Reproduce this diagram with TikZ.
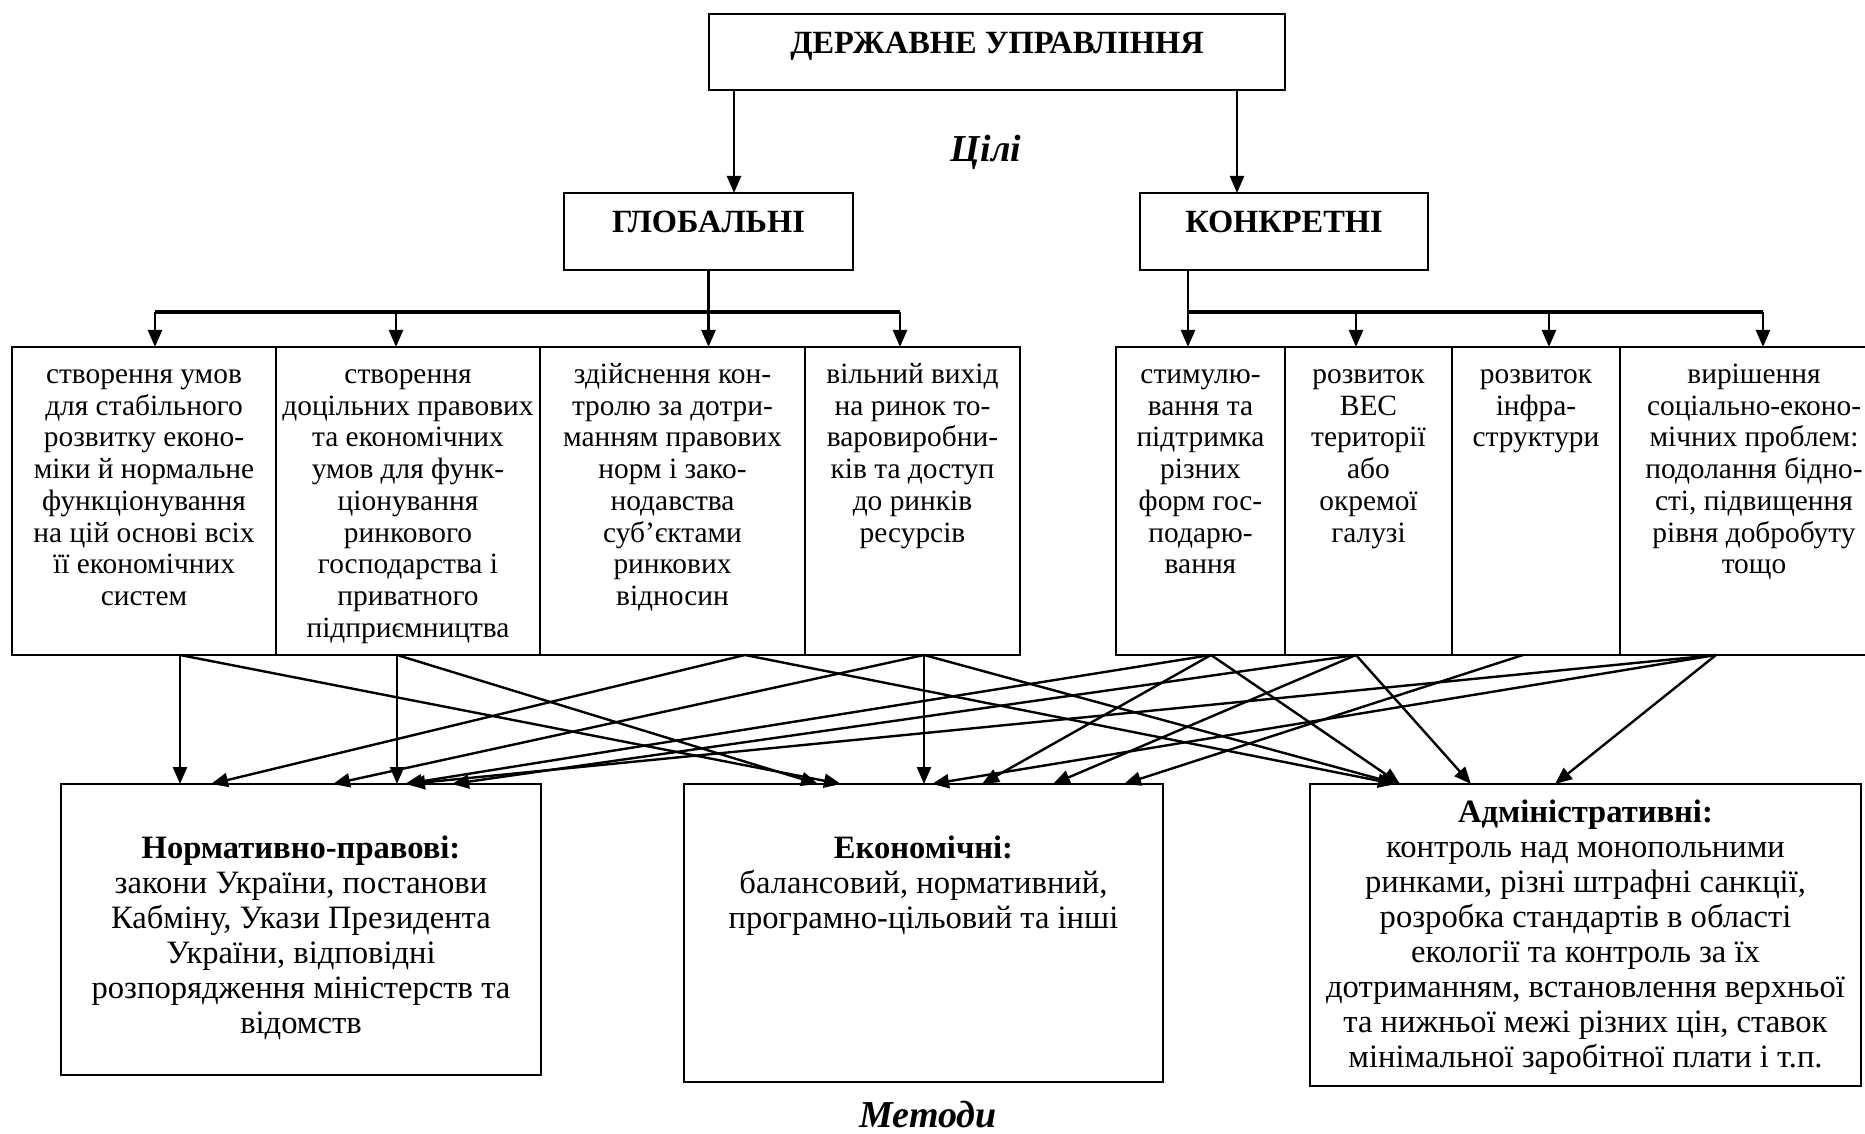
\documentclass[tikz,border=0pt]{standalone}
\usepackage{fontspec}
\setmainfont{Liberation Serif}
\usepackage{tikz}
\usetikzlibrary{calc, arrows.meta}

\tikzset{
  box/.style={draw, line width=1.2pt, inner sep=0pt, outer sep=0pt, anchor=north west},
  titlebox/.style={box, font=\bfseries\fontsize{16.2}{18}\selectfont, text height=11.5pt, text depth=10.3pt},
  celltext/.style={align=center, inner sep=0pt, anchor=north, font=\fontsize{14.7}{15.85}\selectfont},
  methtext/.style={align=center, inner sep=0pt, anchor=north, font=\fontsize{16.3}{17.5}\selectfont},
  heading/.style={font=\bfseries\itshape\fontsize{19}{21}\selectfont},
  arr/.style={line width=1.2pt, -{Triangle[length=8.5pt,width=7pt]}},
  bar/.style={line width=1.6pt}
}

\begin{document}
\begin{tikzpicture}[x=0.5pt, y=-0.5pt]

\useasboundingbox (0,0) rectangle (1865,1134);

% -------------------------
% Top: state management and goals
% -------------------------
\node[titlebox, minimum width=288pt, minimum height=38pt] (upr) at (709,14) {ДЕРЖАВНЕ УПРАВЛІННЯ};
\node[titlebox, minimum width=144.5pt, minimum height=38.5pt] (glob) at (564,193) {ГЛОБАЛЬНІ};
\node[titlebox, minimum width=144pt, minimum height=38.5pt] (konk) at (1140,193) {КОНКРЕТНІ};

\node[heading] (goals) at (986,152) {Цілі};

\draw[arr] ($(upr.south west)+(25,0)$) -- ($(glob.north west)+(170,0)$);
\draw[arr] ($(upr.south west)+(528,0)$) -- ($(konk.north west)+(97,0)$);

% -------------------------
% Row of global goals
% -------------------------
\node[box, minimum width=132pt, minimum height=154pt] (c1) at (12,347) {};
\node[box, minimum width=132pt, minimum height=154pt] (c2) at (276,347) {};
\node[box, minimum width=132.5pt, minimum height=154pt] (c3) at (540,347) {};
\node[box, minimum width=107.5pt, minimum height=154pt] (c4) at (805,347) {};

\node[celltext] (t1) at ($(c1.north)+(0,14)$) {\strut створення умов\\для стабільного\\розвитку еконо-\\міки й нормальне\\функціонування\\на цій основі всіх\\її економічних\\систем};
\node[celltext] (t2) at ($(c2.north)+(0,14)$) {\strut створення\\доцільних правових\\та економічних\\умов для функ-\\ціонування\\ринкового\\господарства і\\приватного\\підприємництва};
\node[celltext] (t3) at ($(c3.north)+(0,14)$) {\strut здійснення кон-\\тролю за дотри-\\манням правових\\норм і зако-\\нодавства\\суб’єктами\\ринкових\\відносин};
\node[celltext] (t4) at ($(c4.north)+(0,14)$) {\strut вільний вихід\\на ринок то-\\варовиробни-\\ків та доступ\\до ринків\\ресурсів};

\draw[arr] (glob.south) -- (glob.south |- c3.north);
\draw[bar] ($(c1.north west)+(143,-35)$) -- ($(c4.north west)+(95,-35)$);
\draw[arr] ($(c1.north west)+(143,-35)$) -- ($(c1.north west)+(143,0)$);
\draw[arr] ($(c2.north west)+(120,-35)$) -- ($(c2.north west)+(120,0)$);
\draw[arr] ($(c4.north west)+(95,-35)$) -- ($(c4.north west)+(95,0)$);

% -------------------------
% Row of concrete goals
% -------------------------
\node[box, minimum width=84.5pt, minimum height=154pt] (c5) at (1116,347) {};
\node[box, minimum width=83.5pt, minimum height=154pt] (c6) at (1285,347) {};
\node[box, minimum width=84pt, minimum height=154pt] (c7) at (1452,347) {};
\node[box, minimum width=134pt, minimum height=154pt] (c8) at (1620,347) {};

\node[celltext] (t5) at ($(c5.north)+(0,14)$) {\strut стимулю-\\вання та\\підтримка\\різних\\форм гос-\\подарю-\\вання};
\node[celltext] (t6) at ($(c6.north)+(0,14)$) {\strut розвиток\\ВЕС\\території\\або\\окремої\\галузі};
\node[celltext] (t7) at ($(c7.north)+(0,14)$) {\strut розвиток\\інфра-\\структури};
\node[celltext] (t8) at ($(c8.north)+(0,14)$) {\strut вирішення\\соціально-еконо-\\мічних проблем:\\подолання бідно-\\сті, підвищення\\рівня добробуту\\тощо};

\draw[arr] ($(konk.south west)+(48,0)$) -- ($(c5.north west)+(72,0)$);
\draw[bar] ($(c5.north west)+(72,-35)$) -- ($(c8.north west)+(143,-35)$);
\draw[arr] ($(c6.north west)+(71,-35)$) -- ($(c6.north west)+(71,0)$);
\draw[arr] ($(c7.north west)+(97,-35)$) -- ($(c7.north west)+(97,0)$);
\draw[arr] ($(c8.north west)+(143,-35)$) -- ($(c8.north west)+(143,0)$);

% -------------------------
% Methods
% -------------------------
\node[box, minimum width=240pt, minimum height=145.5pt] (norm) at (61,784) {};
\node[box, minimum width=239.5pt, minimum height=149pt] (ekon) at (684,784) {};
\node[box, minimum width=275.5pt, minimum height=151pt] (adm) at (1310,784) {};

\node[methtext] (normtxt) at ($(norm.north)+(0,49.5)$) {\strut\textbf{Нормативно-правові:}\\закони України, постанови\\Кабміну, Укази Президента\\України, відповідні\\розпорядження міністерств та\\відомств};
\node[methtext] (ekontxt) at ($(ekon.north)+(0,49.5)$) {\strut\textbf{Економічні:}\\балансовий, нормативний,\\програмно-цільовий та інші};
\node[methtext] (admtxt) at ($(adm.north)+(0,13.5)$) {\strut\textbf{Адміністративні:}\\контроль над монопольними\\ринками, різні штрафні санкції,\\розробка стандартів в області\\екології та контроль за їх\\дотриманням, встановлення верхньої\\та нижньої межі різних цін, ставок\\мінімальної заробітної плати і т.п.};

\node[heading] (meth) at (928,1115) {Методи};

% -------------------------
% Arrows from goals to methods
% -------------------------
\draw[arr] ($(c1.south west)+(168,0)$) -- ($(norm.north west)+(119,0)$);
\draw[arr] ($(c1.south west)+(168,0)$) -- ($(ekon.north west)+(157,0)$);
\draw[arr] ($(c2.south west)+(121,0)$) -- ($(norm.north west)+(336,0)$);
\draw[arr] ($(c2.south west)+(121,0)$) -- ($(ekon.north west)+(134,0)$);
\draw[arr] ($(c3.south west)+(205,0)$) -- ($(norm.north west)+(150,0)$);
\draw[arr] ($(c3.south west)+(205,0)$) -- ($(adm.north west)+(85,0)$);
\draw[arr] ($(c4.south west)+(119,0)$) -- ($(ekon.north west)+(240,0)$);
\draw[arr] ($(c4.south west)+(119,0)$) -- ($(norm.north west)+(272,0)$);
\draw[arr] ($(c4.south west)+(119,0)$) -- ($(adm.north west)+(88,0)$);
\draw[arr] ($(c5.south west)+(95,0)$) -- ($(norm.north west)+(344,0)$);
\draw[arr] ($(c5.south west)+(95,0)$) -- ($(ekon.north west)+(298,0)$);
\draw[arr] ($(c5.south west)+(95,0)$) -- ($(adm.north west)+(90,0)$);
\draw[arr] ($(c6.south west)+(71,0)$) -- ($(norm.north west)+(391,0)$);
\draw[arr] ($(c6.south west)+(71,0)$) -- ($(ekon.north west)+(369,0)$);
\draw[arr] ($(c6.south west)+(71,0)$) -- ($(adm.north west)+(161,0)$);
\draw[arr] ($(c7.south west)+(71,0)$) -- ($(ekon.north west)+(440,0)$);
\draw[arr] ($(c8.south west)+(96,0)$) -- ($(norm.north west)+(347,0)$);
\draw[arr] ($(c8.south west)+(96,0)$) -- ($(ekon.north west)+(248,0)$);
\draw[arr] ($(c8.south west)+(96,0)$) -- ($(adm.north west)+(245,0)$);

\end{tikzpicture}
\end{document}
